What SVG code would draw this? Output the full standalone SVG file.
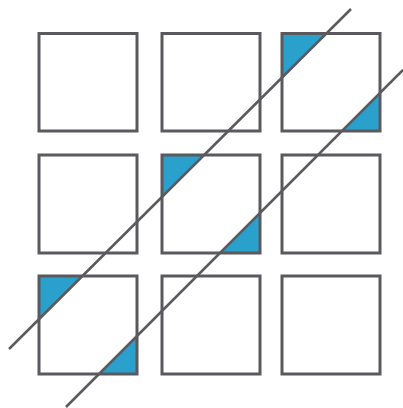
<svg xmlns="http://www.w3.org/2000/svg" width="403" height="408" viewBox="0 0 403 408">
<style>
.sq{fill:none;stroke:#5a5a5e;stroke-width:3}
.tri{fill:#2aa0cc;stroke:none}
.ln{stroke:#5a5a5e;stroke-width:2.5;fill:none}
</style>
<rect width="403" height="408" fill="#ffffff"/>
<g id="fills">
<polygon class="tri" points="282,33 326.8,33 282,77.6"/>
<polygon class="tri" points="162,155 204.1,155 162,196.9"/>
<polygon class="tri" points="39,276 82.4,276 39,319.2"/>
<polygon class="tri" points="380,131 342,131 380,93"/>
<polygon class="tri" points="260,253 220,253 260,213"/>
<polygon class="tri" points="137,374 99,374 137,336"/>
</g>
<g id="node-r1c1"><rect class="sq" x="39" y="33.5" width="98" height="97.5"/></g>
<g id="node-r1c2"><rect class="sq" x="162" y="33.5" width="98" height="97.5"/></g>
<g id="node-r1c3"><rect class="sq" x="282" y="33.5" width="98" height="97.5"/></g>
<g id="node-r2c1"><rect class="sq" x="39" y="155" width="98" height="98"/></g>
<g id="node-r2c2"><rect class="sq" x="162" y="155" width="98" height="98"/></g>
<g id="node-r2c3"><rect class="sq" x="282" y="155" width="98" height="98"/></g>
<g id="node-r3c1"><rect class="sq" x="39" y="276" width="98" height="98"/></g>
<g id="node-r3c2"><rect class="sq" x="162" y="276" width="98" height="98"/></g>
<g id="node-r3c3"><rect class="sq" x="282" y="276" width="98" height="98"/></g>
<g id="connectors">
<line class="ln" x1="9" y1="349" x2="351" y2="9"/>
<line class="ln" x1="66" y1="407" x2="403" y2="70"/>
</g>
</svg>
